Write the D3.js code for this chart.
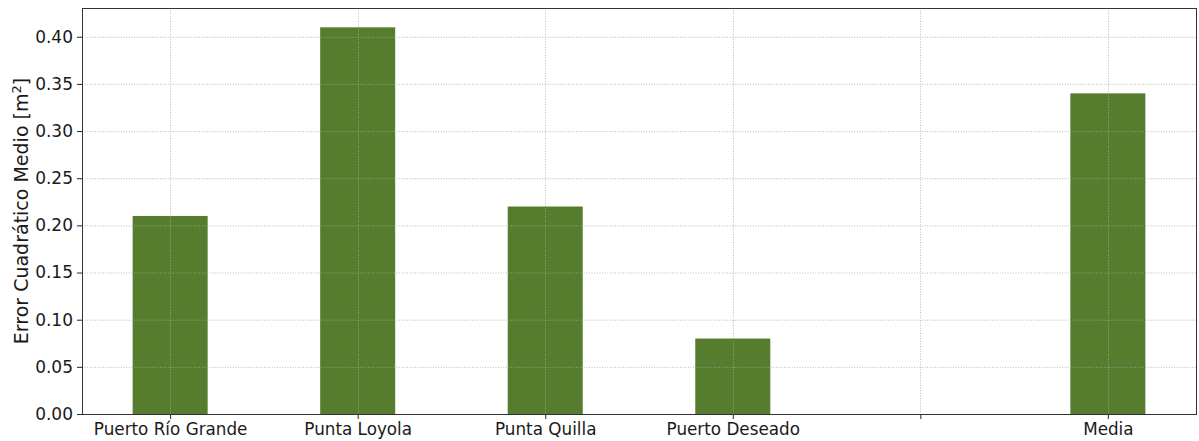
<!DOCTYPE html>
<html><head><meta charset="utf-8">
<script src="https://cdn.jsdelivr.net/npm/d3@7"></script>
<style>body{margin:0;background:#fff}svg{display:block}text{font-family:"DejaVu Sans",sans-serif;fill:#262626}</style>
</head><body><svg id="c" width="1199" height="441"></svg>
<script>
const categories = ["Puerto Río Grande","Punta Loyola","Punta Quilla","Puerto Deseado","","Media"];
const values = [0.21, 0.41, 0.22, 0.08, null, 0.34];
const yTicks = [0,0.05,0.10,0.15,0.20,0.25,0.30,0.35,0.40];

const svg = d3.select("#c");
const m = {l:82, r:1196, t:8, b:414};
const x = d3.scaleLinear().domain([-0.47, 5.47]).range([m.l, m.r]);
const y = d3.scaleLinear().domain([0, 0.4305]).range([m.b, m.t]);
const bw = 0.4;

// bars
svg.append("g").selectAll("rect").data(values.map((v,i)=>({v,i})).filter(d=>d.v!=null))
  .join("rect")
  .attr("x", d=>x(d.i-bw/2)).attr("width", d=>x(d.i+bw/2)-x(d.i-bw/2))
  .attr("y", d=>y(d.v)).attr("height", d=>y(0)-y(d.v))
  .attr("fill","#567c2e");

// grid
const g = svg.append("g").attr("stroke","#a8a8a8").attr("stroke-width",0.8).attr("stroke-dasharray","1,1.6");
g.selectAll(".gy").data(yTicks).join("line").attr("x1",m.l).attr("x2",m.r).attr("y1",d=>y(d)+0.5).attr("y2",d=>y(d)+0.5);
g.selectAll(".gx").data(categories.map((c,i)=>i)).join("line").attr("y1",m.t).attr("y2",m.b).attr("x1",d=>Math.round(x(d))+0.5).attr("x2",d=>Math.round(x(d))+0.5);

// axes
const yAxis = d3.axisLeft(y).tickValues(yTicks).tickFormat(d3.format(".2f")).tickSizeOuter(0).tickSize(5).tickPadding(4);
const ya = svg.append("g").attr("transform",`translate(${m.l},0)`).call(yAxis);
ya.select(".domain").remove();
ya.selectAll("line").attr("stroke","#262626");
ya.selectAll("text").style("font-size","17px").style("fill","#1a1a1a").style("font-family","DejaVu Sans");

const xAxis = d3.axisBottom(d3.scalePoint().domain(d3.range(categories.length)).range([x(0),x(5)]))
  .tickFormat(i=>categories[i]).tickSizeOuter(0).tickSize(5).tickPadding(4);
const xa = svg.append("g").attr("transform",`translate(0,${m.b})`).call(xAxis);
xa.select(".domain").remove();
xa.selectAll("line").attr("stroke","#262626");
xa.selectAll("text").style("font-size","16.8px").style("fill","#1a1a1a").style("font-family","DejaVu Sans");

// frame
svg.append("rect").attr("x",m.l+0.5).attr("y",m.t+0.5).attr("width",m.r-m.l).attr("height",m.b-m.t)
  .attr("fill","none").attr("stroke","#333").attr("stroke-width",1);

// y label
const yl = svg.append("text").attr("transform",`translate(28,${(m.t+m.b)/2}) rotate(-90)`)
  .attr("text-anchor","middle").style("font-size","19px").style("fill","#1a1a1a");
yl.append("tspan").text("Error Cuadrático Medio [m");
yl.append("tspan").attr("baseline-shift","super").style("font-size","13px").text("2");
yl.append("tspan").text("]");
</script></body></html>
